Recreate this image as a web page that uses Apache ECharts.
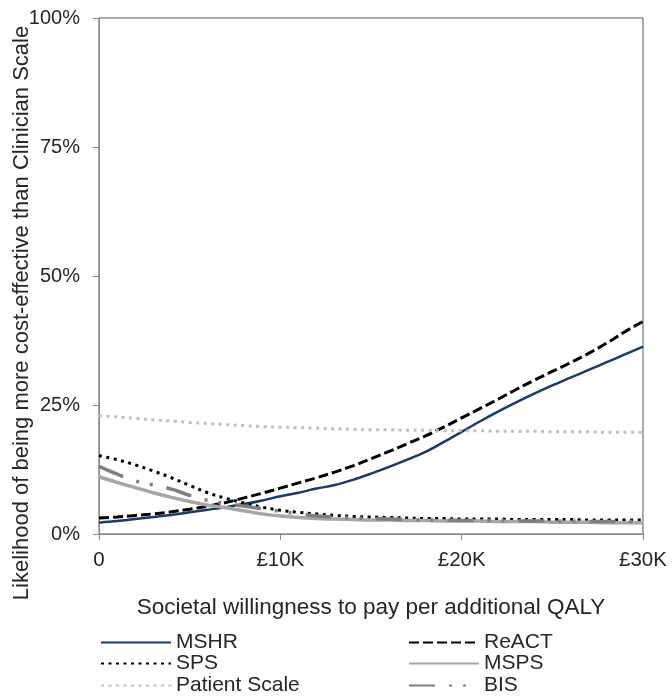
<!DOCTYPE html>
<html>
<head>
<meta charset="utf-8">
<script src="https://cdn.jsdelivr.net/npm/echarts@6/dist/echarts.min.js"></script>
<style>
  html, body { margin: 0; padding: 0; background: #fff; }
  #chart { width: 672px; height: 697px; }
</style>
</head>
<body>
<div id="chart"></div>
<script>
// Willingness to pay (£)
const wtp = [0, 1000, 2000, 3000, 4000, 5000, 6000, 7000, 8000, 9000, 10000,
  11000, 12000, 13000, 14000, 15000, 16000, 17000, 18000, 19000, 20000,
  21000, 22000, 23000, 24000, 25000, 26000, 27000, 28000, 29000, 30000];

// Likelihood (%) of being more cost-effective than Clinician Scale
const mshr = [2.2, 2.5, 2.9, 3.3, 3.7, 4.2, 4.7, 5.2, 5.8, 6.5, 7.3,
  8.0, 8.8, 9.5, 10.5, 11.7, 13.0, 14.4, 15.9, 17.8, 19.8,
  21.8, 23.7, 25.5, 27.2, 28.8, 30.3, 31.8, 33.3, 34.8, 36.3];
const react = [3.1, 3.3, 3.6, 3.9, 4.3, 4.8, 5.4, 6.1, 7.0, 7.9, 8.9,
  9.9, 10.9, 12.0, 13.2, 14.6, 16.0, 17.5, 19.0, 20.7, 22.5,
  24.3, 26.1, 28.0, 29.8, 31.5, 33.2, 35.0, 37.0, 39.2, 41.2];
const sps = [15.2, 14.4, 13.4, 12.2, 10.9, 9.4, 8.0, 6.9, 6.0, 5.2, 4.6,
  4.2, 3.9, 3.6, 3.4, 3.3, 3.2, 3.1, 3.0, 3.0, 2.9,
  2.9, 2.9, 2.8, 2.8, 2.8, 2.8, 2.7, 2.7, 2.7, 2.7];
const msps = [11.1, 10.0, 9.0, 8.0, 7.1, 6.3, 5.6, 5.1, 4.5, 3.9, 3.5,
  3.2, 3.0, 2.9, 2.8, 2.7, 2.7, 2.6, 2.6, 2.5, 2.5,
  2.5, 2.4, 2.4, 2.4, 2.3, 2.3, 2.3, 2.2, 2.2, 2.2];
const patient = [22.9, 22.7, 22.4, 22.1, 21.9, 21.6, 21.4, 21.2, 21.0, 20.8, 20.7,
  20.6, 20.5, 20.4, 20.3, 20.2, 20.2, 20.1, 20.1, 20.0, 20.0,
  20.0, 19.9, 19.9, 19.9, 19.8, 19.8, 19.8, 19.7, 19.7, 19.7];
const bis = [13.1, 11.6, 10.3, 9.5, 8.7, 7.5, 6.5, 5.9, 5.4, 4.9, 4.4,
  3.9, 3.5, 3.3, 3.1, 3.0, 2.9, 2.8, 2.7, 2.7, 2.6,
  2.6, 2.6, 2.5, 2.5, 2.5, 2.5, 2.4, 2.4, 2.4, 2.4];

const yTicks = [0, 25, 50, 75, 100];
const yTitle = 'Likelihood of being more cost-effective than Clinician Scale';
const xTitle = 'Societal willingness to pay per additional QALY';

const pair = arr => wtp.map((x, i) => [x, arr[i]]);
const FONT = 'Liberation Sans, Arial, sans-serif';
const TXT = '#262626';

const seriesDefs = [
  { name: 'MSHR', data: mshr, color: '#1F3864', width: 2.5, type: 'solid' },
  { name: 'ReACT', data: react, color: '#000000', width: 3, type: [10, 4] },
  { name: 'SPS', data: sps, color: '#000000', width: 3, type: [3, 4.5] },
  { name: 'MSPS', data: msps, color: '#A6A6A6', width: 3.5, type: 'solid' },
  { name: 'Patient Scale', data: patient, color: '#BFBFBF', width: 3, type: [3, 4.5] },
  { name: 'BIS', data: bis, color: '#7F7F7F', width: 3.5, type: [26, 14, 3, 11, 3, 14] }
];

const legendPos = {
  'MSHR': [100, 642], 'ReACT': [408, 642],
  'SPS': [100, 663], 'MSPS': [408, 663],
  'Patient Scale': [100, 685], 'BIS': [408, 685]
};

const chart = echarts.init(document.getElementById('chart'));
chart.setOption({
  animation: false,
  backgroundColor: '#ffffff',
  grid: {
    left: 99, right: 29, top: 18, bottom: 163,
    show: true, borderColor: '#595959', borderWidth: 1, backgroundColor: 'transparent'
  },
  graphic: [{
    type: 'text',
    x: 22, y: 313,
    rotation: Math.PI / 2,
    style: {
      text: yTitle,
      fontFamily: FONT, fontSize: 22, fill: TXT,
      align: 'center', verticalAlign: 'middle',
      textAlign: 'center', textVerticalAlign: 'middle'
    }
  }],
  legend: seriesDefs.map(s => ({
    data: [s.name],
    left: legendPos[s.name][0],
    top: legendPos[s.name][1] - 10,
    padding: 0,
    itemWidth: 70,
    itemHeight: 14,
    itemStyle: { opacity: 0 },
    textStyle: { fontFamily: FONT, fontSize: 21, color: TXT, lineHeight: 20 }
  })),
  xAxis: {
    type: 'value',
    min: 0, max: 30000, interval: 10000,
    name: xTitle,
    nameLocation: 'middle',
    nameGap: 62,
    nameTextStyle: { fontFamily: FONT, fontSize: 22.5, color: TXT },
    axisLine: { show: true, lineStyle: { color: '#898989', width: 1 } },
    axisTick: { show: true, length: 6, lineStyle: { color: '#898989' } },
    splitLine: { show: false },
    axisLabel: {
      fontFamily: FONT, fontSize: 20.5, color: TXT, margin: 16,
      formatter: v => v === 0 ? '0' : '£' + (v / 1000) + 'K'
    }
  },
  yAxis: {
    type: 'value',
    min: yTicks[0], max: yTicks[yTicks.length - 1], interval: 25,
    axisLine: { show: true, lineStyle: { color: '#898989', width: 1 } },
    axisTick: { show: true, length: 6, lineStyle: { color: '#898989' } },
    splitLine: { show: false },
    axisLabel: {
      fontFamily: FONT, fontSize: 20, color: TXT, margin: 19,
      formatter: '{value}%'
    }
  },
  series: seriesDefs.map(s => ({
    name: s.name,
    type: 'line',
    data: pair(s.data),
    smooth: 0.35,
    symbol: 'none',
    showSymbol: false,
    color: s.color,
    lineStyle: { color: s.color, width: s.width, type: s.type, cap: 'butt' }
  }))
});
</script>
</body>
</html>
